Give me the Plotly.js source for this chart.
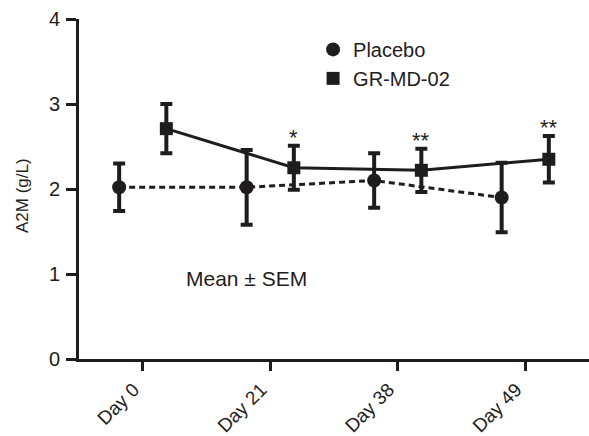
<!DOCTYPE html>
<html>
<head>
<meta charset="utf-8">
<script src="https://cdn.plot.ly/plotly-3.0.1.min.js"></script>
<style>html,body{margin:0;padding:0;background:#fff;}#chart{width:589px;height:436px;}</style>
</head>
<body>
<div id="chart"></div>
<script>
// ---- data ----
const categories = ["Day 0", "Day 21", "Day 38", "Day 49"];
const placeboMean = [2.02, 2.02, 2.10, 1.90];
const placeboSem  = [0.28, 0.44, 0.32, 0.41];
const grMean = [2.71, 2.25, 2.22, 2.35];
const grSem  = [0.29, 0.26, 0.255, 0.275];
const significance = ["", "*", "**", "**"];
const seriesNames = ["Placebo", "GR-MD-02"];

// ---- style ----
const ink = "#1f1c1d";
const offset = 0.185;
const font = "Liberation Sans, Arial, Helvetica, sans-serif";

const idx = categories.map((c, i) => i);
const xPlacebo = idx.map(i => i - offset);
const xGr = idx.map(i => i + offset);

const traces = [
  {x: xPlacebo, y: placeboMean, mode: "lines", line: {color: ink, width: 3, dash: "6px,4px"}, showlegend: false, hoverinfo: "skip"},
  {x: xGr, y: grMean, mode: "lines", line: {color: ink, width: 3}, showlegend: false, hoverinfo: "skip"},
  {x: xPlacebo, y: placeboMean, name: seriesNames[0], mode: "markers", cliponaxis: false,
   marker: {symbol: "circle", size: 14, color: ink},
   error_y: {type: "data", array: placeboSem, visible: true, color: ink, thickness: 4, width: 6}},
  {x: xGr, y: grMean, name: seriesNames[1], mode: "markers", cliponaxis: false,
   marker: {symbol: "square", size: 13, color: ink},
   error_y: {type: "data", array: grSem, visible: true, color: ink, thickness: 4, width: 6}}
];

const annotations = [];
significance.forEach((s, i) => {
  if (s) annotations.push({x: xGr[i], y: grMean[i] + grSem[i], xref: "x", yref: "y", text: s, showarrow: false,
    xanchor: "center", yanchor: "bottom", yshift: -6, font: {family: font, size: 22, color: ink}});
});
annotations.push({x: 0.329, y: 0.953, xref: "paper", yref: "y", text: "Mean ± SEM", showarrow: false,
  xanchor: "center", yanchor: "middle", font: {family: font, size: 21, color: ink}});
annotations.push({x: -0.112, y: 0.482, xref: "paper", yref: "paper", text: "A2M (g/L)", textangle: -90, showarrow: false,
  xanchor: "center", yanchor: "middle", font: {family: font, size: 17, color: ink}});

const layout = {
  width: 589, height: 436,
  margin: {l: 79, r: 0, t: 19, b: 77, pad: 0},
  paper_bgcolor: "#fff", plot_bgcolor: "#fff",
  font: {family: font, size: 20, color: ink},
  showlegend: true,
  legend: {x: 0.459, y: 0.968, xanchor: "left", yanchor: "top", bgcolor: "rgba(0,0,0,0)", font: {family: font, size: 20, color: ink}},
  xaxis: {range: [-0.5, 3.5], tickvals: idx, ticktext: categories, tickangle: -45, ticklabelshift: -9,
    showline: true, linecolor: ink, linewidth: 3, ticks: "outside", ticklen: 9, tickwidth: 3, tickcolor: ink,
    showgrid: false, zeroline: false, tickfont: {family: font, size: 19, color: ink}},
  yaxis: {range: [0, 4], tickvals: [0, 1, 2, 3, 4], ticklabelstandoff: 2,
    showline: true, linecolor: ink, linewidth: 3, ticks: "outside", ticklen: 10, tickwidth: 3, tickcolor: ink,
    showgrid: false, zeroline: false, tickfont: {family: font, size: 20, color: ink}},
  annotations: annotations
};

Plotly.newPlot("chart", traces, layout, {displayModeBar: false, staticPlot: true});
</script>
</body>
</html>
